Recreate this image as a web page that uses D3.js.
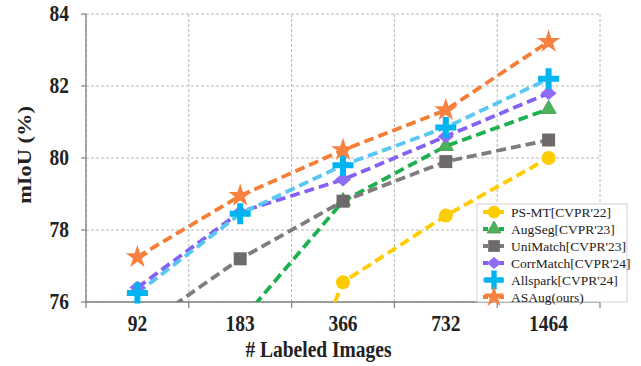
<!DOCTYPE html>
<html>
<head>
<meta charset="utf-8">
<script src="https://d3js.org/d3.v7.min.js"></script>
<style>
  body { margin: 0; background: #fff; }
</style>
</head>
<body>
<div id="chart"></div>
<script>
// data
var categories = ["92", "183", "366", "732", "1464"];
var yTicks = [76, 78, 80, 82, 84];
var psmt      = [65.8, 69.6, 76.55, 78.4, 80.0];
var augseg    = [71.09, 75.45, 78.8, 80.33, 81.36];
var unimatch  = [75.2, 77.2, 78.8, 79.9, 80.5];
var corrmatch = [76.4, 78.5, 79.4, 80.6, 81.8];
var allspark  = [76.25, 78.45, 79.8, 80.85, 82.2];
var asaug     = [77.25, 78.95, 80.22, 81.33, 83.23];

var series = [
  { name: "PS-MT[CVPR'22]",     values: psmt,      line: "#FFCC00", fill: "#FFCC00", shape: "circle" },
  { name: "AugSeg[CVPR'23]",    values: augseg,    line: "#1DB04E", fill: "#4DB05A", shape: "triangle" },
  { name: "UniMatch[CVPR'23]",  values: unimatch,  line: "#7F7C7C", fill: "#6E6A6A", shape: "square" },
  { name: "CorrMatch[CVPR'24]", values: corrmatch, line: "#8461F2", fill: "#8E6CF5", shape: "diamond" },
  { name: "Allspark[CVPR'24]",  values: allspark,  line: "#58C8F2", fill: "#00B4F0", shape: "plus" },
  { name: "ASAug(ours)",        values: asaug,     line: "#F47E36", fill: "#F98140", shape: "star" }
];

var FONT = "'Liberation Serif', 'Times New Roman', serif";
var FS = 19.5, SY = 1.15; // bold labels look a bit stretched vertically

var W = 641, H = 366;
var m = { left: 86, right: 41, top: 14, bottom: 64 };
var pw = W - m.left - m.right, ph = H - m.top - m.bottom;

var svg = d3.select("#chart").append("svg").attr("width", W).attr("height", H)
  .attr("font-family", FONT);

var x = d3.scaleBand().domain(categories).range([0, pw]);
var y = d3.scaleLinear().domain([76, 84]).range([ph, 0]);

var g = svg.append("g").attr("transform", "translate(" + m.left + "," + m.top + ")");

// clip for lines
g.append("clipPath").attr("id", "clip")
  .append("rect").attr("width", pw).attr("height", ph);

// grid
var gridColor = "#b8b8b8";
g.selectAll(".hgrid").data(yTicks).enter().append("line")
  .attr("x1", 0).attr("x2", pw)
  .attr("y1", d => y(d)).attr("y2", d => y(d))
  .attr("stroke", gridColor).attr("stroke-width", 1).attr("stroke-dasharray", "3,2");
var vlines = categories.map(c => x(c)).concat([pw]);
g.selectAll(".vgrid").data(vlines).enter().append("line")
  .attr("x1", d => d).attr("x2", d => d)
  .attr("y1", 0).attr("y2", ph)
  .attr("stroke", gridColor).attr("stroke-width", 1).attr("stroke-dasharray", "3,2");

// spines
g.append("line").attr("x1", 0).attr("x2", 0).attr("y1", 0).attr("y2", ph)
  .attr("stroke", "#808080").attr("stroke-width", 1.3);
g.append("line").attr("x1", 0).attr("x2", pw).attr("y1", ph).attr("y2", ph)
  .attr("stroke", "#808080").attr("stroke-width", 1.3);

// ticks
g.selectAll(".ytick").data(yTicks).enter().append("line")
  .attr("x1", -5).attr("x2", 0).attr("y1", d => y(d)).attr("y2", d => y(d))
  .attr("stroke", "#808080").attr("stroke-width", 1.2);
g.selectAll(".ylab").data(yTicks).enter().append("text")
  .attr("transform", d => "translate(-17," + (y(d) + 7) + ") scale(1," + SY + ")")
  .attr("text-anchor", "end").attr("font-size", FS).attr("font-weight", "bold")
  .attr("fill", "#222").text(d => d);
g.selectAll(".xtick").data(vlines).enter().append("line")
  .attr("x1", d => d).attr("x2", d => d).attr("y1", ph).attr("y2", ph + 6)
  .attr("stroke", "#808080").attr("stroke-width", 1.2);
g.selectAll(".xlab").data(categories).enter().append("text")
  .attr("transform", d => "translate(" + (x(d) + x.bandwidth() / 2) + "," + (ph + 29) + ") scale(1," + SY + ")")
  .attr("text-anchor", "middle").attr("font-size", FS).attr("font-weight", "bold")
  .attr("fill", "#222").text(d => d);

// axis titles
svg.append("text")
  .attr("transform", "translate(318.5,357) scale(1," + SY + ")")
  .attr("text-anchor", "middle").attr("font-size", FS).attr("font-weight", "bold")
  .attr("fill", "#222").text("# Labeled Images");
svg.append("text")
  .attr("transform", "translate(31," + (m.top + y(80) - 3) + ") scale(1," + SY + ") rotate(-90)")
  .attr("text-anchor", "middle").attr("font-size", FS).attr("font-weight", "bold")
  .attr("fill", "#222").text("mIoU (%)");

// marker drawing
function drawMarker(sel, shape, color, size) {
  var s = size || 1;
  if (shape === "circle") {
    sel.append("circle").attr("r", 7 * s).attr("fill", color);
  } else if (shape === "triangle") {
    sel.append("path").attr("d", d3.symbol().type(d3.symbolTriangle).size(100 * s * s)())
      .attr("fill", color).attr("stroke", "#3f9a4c").attr("stroke-width", 0.8);
  } else if (shape === "square") {
    sel.append("rect").attr("x", -6.5 * s).attr("y", -6.5 * s).attr("width", 13 * s).attr("height", 13 * s)
      .attr("fill", color);
  } else if (shape === "diamond") {
    var rx = 8 * s, ry = 6.8 * s;
    sel.append("path").attr("d", "M0," + (-ry) + "L" + rx + ",0L0," + ry + "L" + (-rx) + ",0Z")
      .attr("fill", color);
  } else if (shape === "plus") {
    var a = 10.5 * s, t = 3 * s;
    sel.append("path").attr("d",
      "M" + (-t) + "," + (-a) + "H" + t + "V" + (-t) + "H" + a + "V" + t + "H" + t + "V" + a +
      "H" + (-t) + "V" + t + "H" + (-a) + "V" + (-t) + "H" + (-t) + "Z")
      .attr("fill", color);
  } else if (shape === "star") {
    sel.append("path").attr("d", d3.symbol().type(d3.symbolStar).size(170 * s * s)())
      .attr("fill", color);
  }
}

var line = d3.line()
  .x((d, i) => x(categories[i]) + x.bandwidth() / 2)
  .y(d => y(d));

// lines
series.forEach(function(s) {
  g.append("path").datum(s.values)
    .attr("clip-path", "url(#clip)")
    .attr("d", line)
    .attr("fill", "none").attr("stroke", s.line)
    .attr("stroke-width", 3.8).attr("stroke-dasharray", "10,5");
});

// markers
series.forEach(function(s) {
  s.values.forEach(function(v, i) {
    if (v < 76) return;
    var mk = g.append("g")
      .attr("transform", "translate(" + (x(categories[i]) + x.bandwidth() / 2) + "," + y(v) + ")");
    drawMarker(mk, s.shape, s.fill, 1);
  });
});

// legend
var lg = svg.append("g").attr("transform", "translate(477,204)");
lg.append("rect").attr("width", 150).attr("height", 98)
  .attr("fill", "#fff").attr("fill-opacity", 0.85)
  .attr("stroke", "#d0d0d0").attr("stroke-width", 1);
series.forEach(function(s, i) {
  var row = lg.append("g").attr("transform", "translate(0," + (8 + i * 17) + ")");
  row.append("line").attr("x1", 6).attr("x2", 28).attr("y1", 0).attr("y2", 0)
    .attr("stroke", s.line).attr("stroke-width", 3.8).attr("stroke-dasharray", "5,3");
  var mk = row.append("g").attr("transform", "translate(17,0)");
  drawMarker(mk, s.shape, s.fill, 0.9);
  row.append("text").attr("x", 34).attr("y", 0).attr("dy", "0.35em")
    .attr("font-size", 13.5).attr("fill", "#222").text(s.name);
});
</script>
</body>
</html>
